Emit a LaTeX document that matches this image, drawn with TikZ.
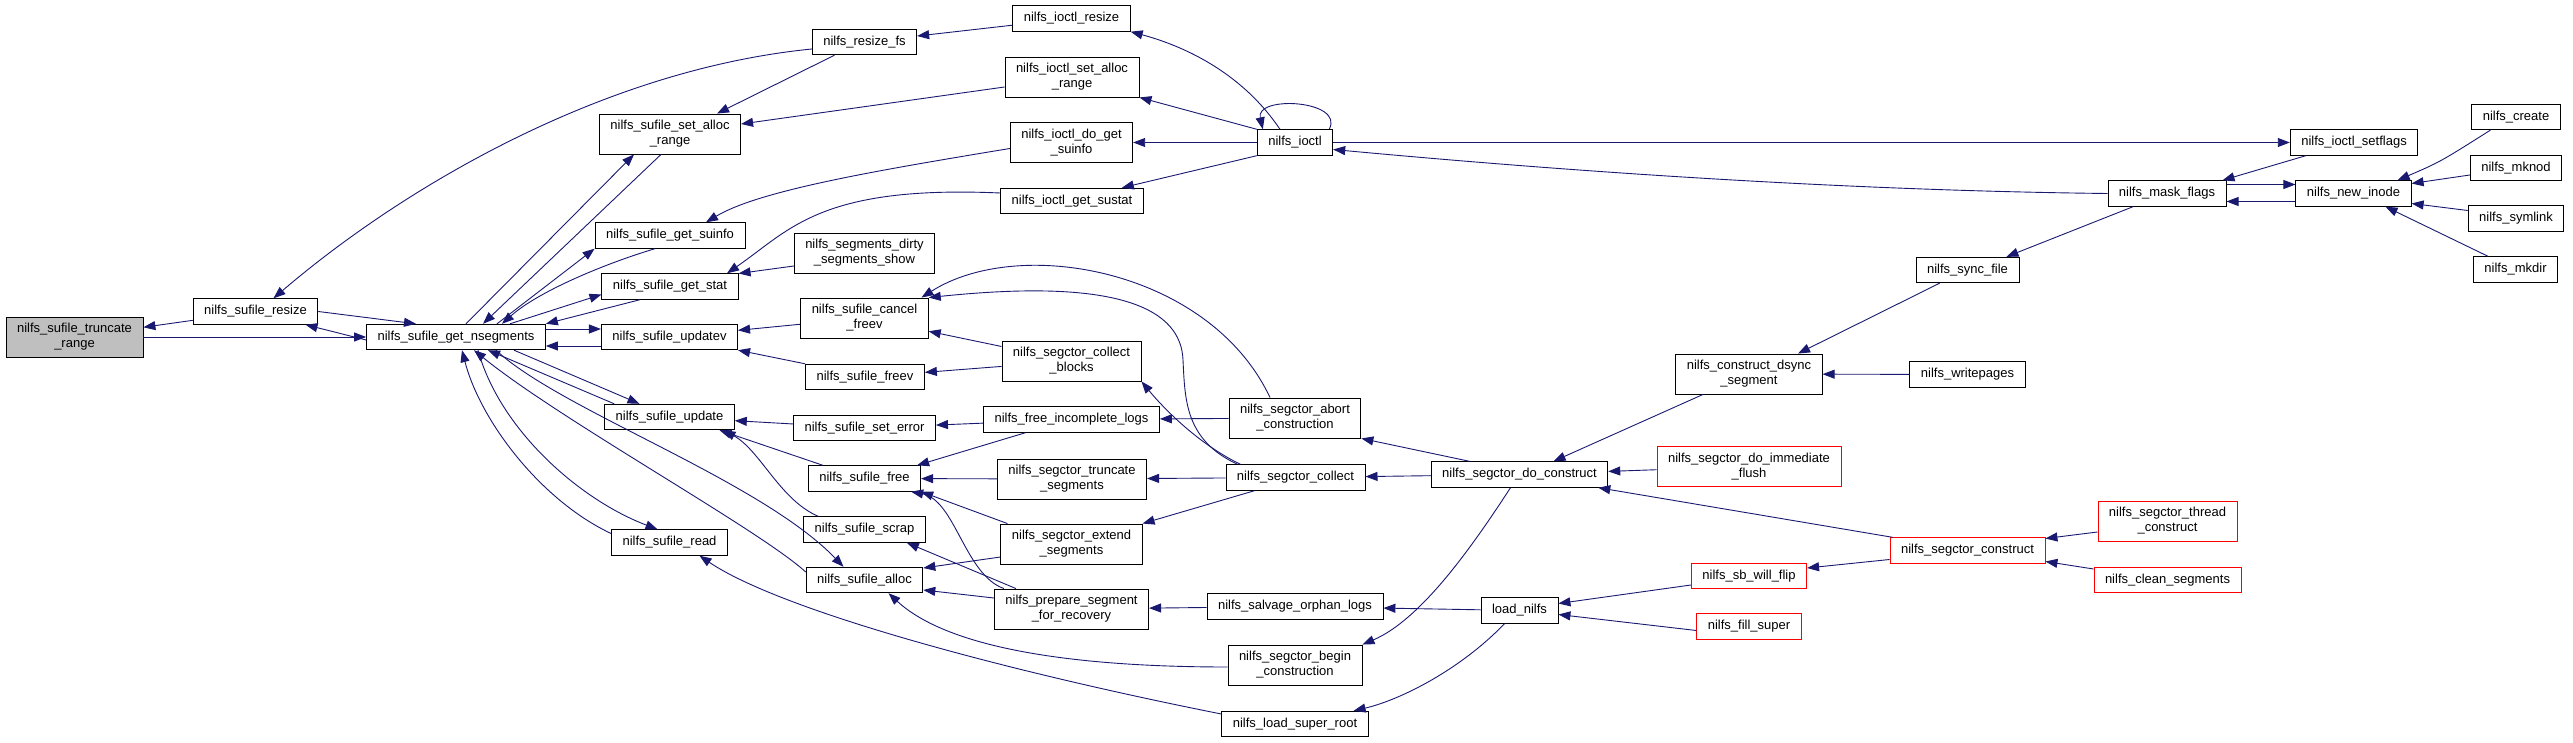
\documentclass[tikz,border=0pt]{standalone}
\usepackage{fontspec}
\setmainfont{Liberation Sans}
\usetikzlibrary{arrows.meta}
\definecolor{edgeblue}{HTML}{191970}

\begin{document}
\begin{tikzpicture}[
    x=1pt, y=-1pt,
    box/.style={rectangle, draw=black, line width=0.9pt, fill=white, inner xsep=11pt,
                inner ysep=2pt, minimum height=25.5pt, align=center,
                font=\fontsize{13}{15}\selectfont},
    tall/.style={minimum height=40pt},
    root/.style={box, fill=gray!50},
    cut/.style={box, draw=red},
    arrow/.style={-{Triangle[length=12pt,width=9pt]}, draw=edgeblue, line width=0.9pt}
  ]
    \useasboundingbox (0,0) rectangle (2573,743);

    \node[root, tall] (trunc) at (74.5,337) {nilfs\_sufile\_truncate\\\_range};
    \node[box] (resize) at (255.5,311.5) {nilfs\_sufile\_resize};
    \node[box] (nseg) at (456,337) {nilfs\_sufile\_get\_nsegments};

    \node[box, tall] (setalloc) at (670,134) {nilfs\_sufile\_set\_alloc\\\_range};
    \node[box] (getsuinfo) at (670,235.5) {nilfs\_sufile\_get\_suinfo};
    \node[box] (getstat) at (670,286.5) {nilfs\_sufile\_get\_stat};
    \node[box] (updatev) at (669.5,337) {nilfs\_sufile\_updatev};
    \node[box] (update) at (669.5,417) {nilfs\_sufile\_update};
    \node[box] (read) at (669.5,542.5) {nilfs\_sufile\_read};

    \node[box] (resizefs) at (864.5,42) {nilfs\_resize\_fs};
    \node[box, tall] (dirty) at (864.5,253) {nilfs\_segments\_dirty\\\_segments\_show};
    \node[box, tall] (cancelfreev) at (864.5,318) {nilfs\_sufile\_cancel\\\_freev};
    \node[box] (freev) at (865,377) {nilfs\_sufile\_freev};
    \node[box] (seterror) at (864.5,428) {nilfs\_sufile\_set\_error};
    \node[box] (free) at (864.5,478.5) {nilfs\_sufile\_free};
    \node[box] (scrap) at (864.5,529.5) {nilfs\_sufile\_scrap};
    \node[box] (alloc) at (864.5,580) {nilfs\_sufile\_alloc};

    \node[box] (ioctlresize) at (1071.5,18.5) {nilfs\_ioctl\_resize};
    \node[box, tall] (ioctlsetalloc) at (1072,77) {nilfs\_ioctl\_set\_alloc\\\_range};
    \node[box, tall] (dogetsuinfo) at (1071.5,142.5) {nilfs\_ioctl\_do\_get\\\_suinfo};
    \node[box] (getsustat) at (1072,201) {nilfs\_ioctl\_get\_sustat};
    \node[box, tall] (collectblocks) at (1071.5,361) {nilfs\_segctor\_collect\\\_blocks};
    \node[box] (freeincomplete) at (1071.5,419.5) {nilfs\_free\_incomplete\_logs};
    \node[box, tall] (truncseg) at (1072,479) {nilfs\_segctor\_truncate\\\_segments};
    \node[box, tall] (extend) at (1071.5,544) {nilfs\_segctor\_extend\\\_segments};
    \node[box, tall] (prepare) at (1071.5,609) {nilfs\_prepare\_segment\\\_for\_recovery};

    \node[box] (ioctl) at (1295,142.5) {nilfs\_ioctl};
    \node[box, tall] (segabort) at (1295,418) {nilfs\_segctor\_abort\\\_construction};
    \node[box] (collect) at (1295.5,477.5) {nilfs\_segctor\_collect};
    \node[box] (salvage) at (1295,606.5) {nilfs\_salvage\_orphan\_logs};
    \node[box, tall] (segbegin) at (1295,665) {nilfs\_segctor\_begin\\\_construction};
    \node[box] (loadsuperroot) at (1295,724) {nilfs\_load\_super\_root};

    \node[box] (doconstruct) at (1519.5,474.5) {nilfs\_segctor\_do\_construct};
    \node[box] (loadnilfs) at (1519.5,610.5) {load\_nilfs};

    \node[box, tall] (dsync) at (1749,374) {nilfs\_construct\_dsync\\\_segment};
    \node[cut, tall] (immediate) at (1749,466.5) {nilfs\_segctor\_do\_immediate\\\_flush};
    \node[cut] (sbwillflip) at (1749,576) {nilfs\_sb\_will\_flip};
    \node[cut] (fillsuper) at (1749,626.5) {nilfs\_fill\_super};

    \node[box] (syncfile) at (1967.5,270) {nilfs\_sync\_file};
    \node[box] (writepages) at (1967.5,374.5) {nilfs\_writepages};
    \node[cut] (segctorconstruct) at (1967.5,550.5) {nilfs\_segctor\_construct};

    \node[box] (maskflags) at (2167,193.5) {nilfs\_mask\_flags};
    \node[cut, tall] (threadconstruct) at (2167.5,521) {nilfs\_segctor\_thread\\\_construct};
    \node[cut] (cleansegments) at (2167.5,580) {nilfs\_clean\_segments};

    \node[box] (setflags) at (2354,142.5) {nilfs\_ioctl\_setflags};
    \node[box] (newinode) at (2353.5,193.5) {nilfs\_new\_inode};

    \node[box] (create) at (2516,117) {nilfs\_create};
    \node[box] (mknod) at (2516,168) {nilfs\_mknod};
    \node[box] (symlink) at (2516,218.5) {nilfs\_symlink};
    \node[box] (mkdir) at (2515.5,269.5) {nilfs\_mkdir};

    \foreach \a/\b in {resize/trunc, trunc/nseg, ioctlresize/resizefs, ioctl/dogetsuinfo,
        cancelfreev/updatev, collectblocks/cancelfreev, collectblocks/freev, seterror/update,
        freeincomplete/seterror, segabort/freeincomplete, truncseg/free, collect/truncseg,
        salvage/prepare, doconstruct/collect, immediate/doconstruct, loadnilfs/salvage,
        writepages/dsync, ioctl/setflags}
      \draw[arrow] (\a) -- (\b);

    \draw[arrow] (resize.east) -- ([xshift=-40pt]nseg.north);
    \draw[arrow] ([yshift=-3pt]nseg.west) -- ([xshift=50pt]resize.south);
    \draw[arrow] ([xshift=-30pt]resizefs.south) -- ([xshift=47pt]setalloc.north);
    \draw[arrow] (ioctl.north west) -- (ioctlsetalloc.south east);
    \draw[arrow] ([yshift=-10pt]ioctlsetalloc.west) -- ([yshift=10pt]setalloc.east);
    \draw[arrow] (ioctl.south west) -- ([xshift=-22pt]getsustat.north east);
    \draw[arrow] ([yshift=-13pt]dirty.west) -- ([yshift=13pt]getstat.east);
    \draw[arrow] (freev.north west) -- (updatev.south east);
    \draw[arrow] ([xshift=10pt]nseg.north) -- ([xshift=-36pt]setalloc.south);
    \draw[arrow] ([xshift=-9pt]setalloc.south) -- ([xshift=27pt]nseg.north);
    \draw[arrow] ([xshift=41pt]nseg.north) -- (getsuinfo.south west);
    \draw[arrow] ([xshift=54pt]nseg.north) -- ([yshift=-8pt]getstat.west);
    \draw[arrow] ([xshift=-30pt]getstat.south) -- (nseg.north east);
    \draw[arrow] ([yshift=8pt]nseg.east) -- ([yshift=8pt]updatev.west);
    \draw[arrow] ([yshift=-9pt]updatev.west) -- ([yshift=-9pt]nseg.east);
    \draw[arrow] ([xshift=58pt]nseg.south) -- ([xshift=-30pt]update.north);
    \draw[arrow] ([xshift=10pt]update.north west) -- ([xshift=32pt]nseg.south);
    \draw[arrow] ([xshift=15pt]free.north west) -- ([xshift=50pt]update.south);
    \draw[arrow] ([xshift=-46pt]freeincomplete.south) -- ([xshift=-4pt]free.north east);
    \draw[arrow] ([xshift=7pt]extend.north west) -- (free.south east);
    \draw[arrow] ([xshift=22pt]prepare.north west) -- ([xshift=-19pt]scrap.south east);
    \draw[arrow] ([xshift=29pt]collect.south west) -- (extend.north east);
    \draw[arrow] ([yshift=-13pt]extend.west) -- ([yshift=12pt]alloc.east);
    \draw[arrow] ([yshift=11pt]prepare.west) -- ([yshift=-10pt]alloc.east);
    \draw[arrow] ([xshift=-50pt]doconstruct.north) -- (segabort.south east);
    \draw[arrow] ([xshift=-46pt]dsync.south) -- ([xshift=34pt]doconstruct.north);
    \draw[arrow] ([xshift=3pt]segctorconstruct.north west) -- ([xshift=-10pt]doconstruct.south east);
    \draw[arrow] ([yshift=-9pt]sbwillflip.west) -- ([yshift=7pt]loadnilfs.east);
    \draw[arrow] ([yshift=-4pt]fillsuper.west) -- ([yshift=-4pt]loadnilfs.east);
    \draw[arrow] ([yshift=-9pt]segctorconstruct.west) -- ([yshift=8pt]sbwillflip.east);
    \draw[arrow] ([xshift=24pt]syncfile.south west) -- ([xshift=49pt]dsync.north);
    \draw[arrow] ([xshift=16pt]setflags.south west) -- ([xshift=-4pt]maskflags.north east);
    \draw[arrow] ([yshift=9pt]maskflags.east) -- ([yshift=9pt]newinode.west);
    \draw[arrow] ([yshift=-8pt]newinode.west) -- ([yshift=-8pt]maskflags.east);
    \draw[arrow] ([xshift=-34pt]maskflags.south) -- ([xshift=-13pt]syncfile.north east);
    \draw[arrow] ([yshift=-7pt]mknod.west) -- ([yshift=10pt]newinode.east);
    \draw[arrow] ([yshift=8pt]symlink.west) -- ([yshift=-10pt]newinode.east);
    \draw[arrow] ([xshift=15pt]mkdir.north west) -- ([xshift=32pt]newinode.south);
    \draw[arrow] ([yshift=-11pt]threadconstruct.west) -- ([yshift=12pt]segctorconstruct.east);
    \draw[arrow] ([yshift=11pt]cleansegments.west) -- ([yshift=-11pt]segctorconstruct.east);

    % curved calls
    \draw[arrow] ([yshift=-7pt]resizefs.west) .. controls (600,70) and (400,190) .. ([xshift=18pt]resize.north);
    \draw[arrow] ([xshift=-15pt]ioctl.north) .. controls (1240,70) and (1180,45) .. (ioctlresize.south east);
    \draw[arrow] ([xshift=-4pt]ioctl.north east) .. controls (1345,100) and (1255,95) .. ([xshift=6pt]ioctl.north west);
    \draw[arrow] ([yshift=-6pt]dogetsuinfo.west) .. controls (880,170) and (760,190) .. ([xshift=36pt]getsuinfo.north);
    \draw[arrow] ([yshift=8pt]getsustat.west) .. controls (820,185) and (790,230) .. ([xshift=57pt]getstat.north);
    \draw[arrow] ([xshift=-25pt]segabort.north) .. controls (1210,270) and (1020,235) .. ([xshift=57pt]cancelfreev.north);
    \draw[arrow] ([xshift=12pt]collect.north west) .. controls (1185,440) and (1185,400) .. (1183,360)
        .. controls (1180,285) and (1050,285) .. (cancelfreev.north east);
    \draw[arrow] ([xshift=15pt]collect.north west) .. controls (1200,445) and (1165,410) .. (collectblocks.south east);
    \draw[arrow] ([xshift=-15pt]getsuinfo.south) .. controls (610,262) and (540,290) .. ([xshift=46pt]nseg.north);
    \draw[arrow] ([xshift=40pt]nseg.south) .. controls (560,410) and (760,480) .. ([xshift=-21pt]alloc.north);
    \draw[arrow] ([yshift=8pt]alloc.west) .. controls (760,530) and (560,420) .. ([xshift=18pt]nseg.south);
    \draw[arrow] ([xshift=22pt]nseg.south) .. controls (500,430) and (580,500) .. ([xshift=-12pt]read.north);
    \draw[arrow] ([yshift=9pt]read.west) .. controls (540,500) and (480,420) .. ([xshift=6pt]nseg.south);
    \draw[arrow] ([xshift=15pt]scrap.north west) .. controls (780,500) and (760,450) .. ([xshift=54pt]update.south);
    \draw[arrow] ([xshift=10pt]prepare.north west) .. controls (965,575) and (955,500) .. ([xshift=-10pt]free.south east);
    \draw[arrow] ([yshift=-2pt]segbegin.west) .. controls (1080,667) and (950,650) .. ([xshift=24pt]alloc.south);
    \draw[arrow] ([yshift=10pt]loadsuperroot.west) .. controls (1000,670) and (780,610) .. ([xshift=30pt]read.south);
    \draw[arrow] ([xshift=-9pt]doconstruct.south) .. controls (1470,550) and (1420,620) .. (segbegin.north east);
    \draw[arrow] ([xshift=-15pt]loadnilfs.south) .. controls (1460,670) and (1400,700) .. ([xshift=-15pt]loadsuperroot.north east);
    \draw[arrow] (maskflags.west) .. controls (1800,190) and (1500,165) .. ([yshift=-7pt]ioctl.east);
    \draw[arrow] ([xshift=19pt]create.south west) .. controls (2440,162) .. ([xshift=-14pt]newinode.north east);
\end{tikzpicture}
\end{document}
